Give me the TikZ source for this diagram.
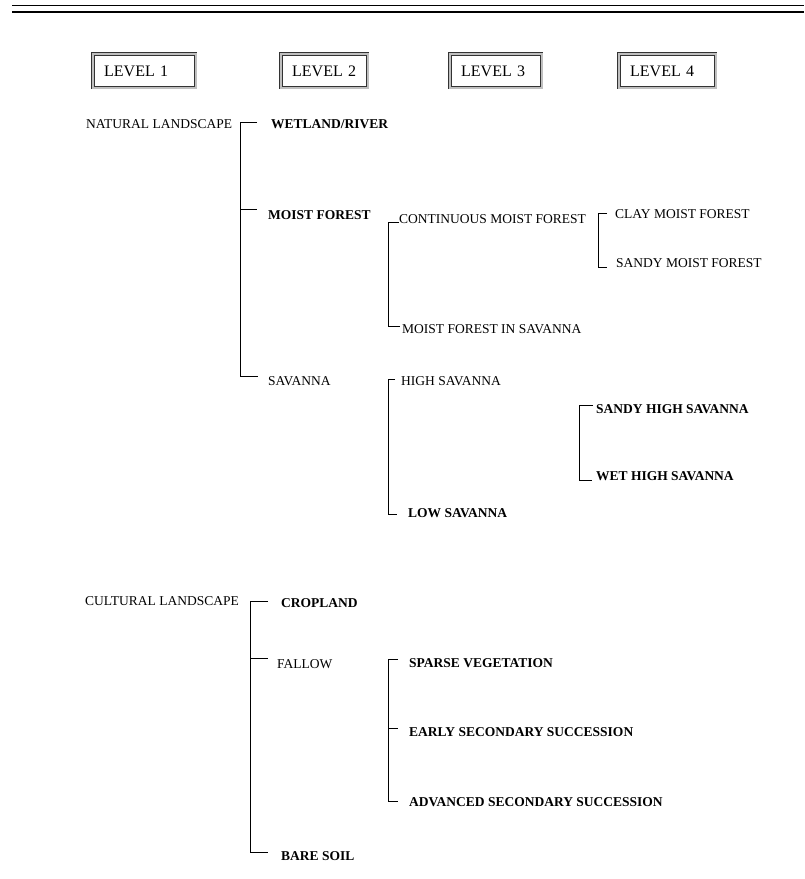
\documentclass[tikz,border=0pt]{standalone}
\usepackage{fontspec}
\setmainfont{Liberation Serif}
\newcommand\treefont{\fontsize{13.5}{15}\selectfont}
\newcommand\levelfont{\fontsize{16}{18}\selectfont}
\begin{document}
\begin{tikzpicture}[x=1pt,y=-1pt,
    lab/.style={anchor=base west,inner sep=0pt,font=\treefont},
    blab/.style={lab,font=\treefont\bfseries},
    levelbox/.style={draw=black!80,double=black!25,double distance=1.6pt,line width=0.9pt,
      anchor=north west,inner xsep=11pt,inner ysep=0pt,minimum height=33.6pt,align=left,font=\levelfont},
    rama/.style={line width=0.9pt}]
    \useasboundingbox (0,0) rectangle (804,879);
    % Doble linea superior
    \draw[line width=1.3pt] (12,5.7) -- (804,5.7);
    \draw[line width=1.3pt] (12,12) -- (804,12);
    % Cajas de niveles
    \node[levelbox,text width=80.6pt] (lev1) at (92.7,53.7) {LEVEL 1};
    \node[levelbox,text width=64.6pt] (lev2) at (280.7,53.7) {\mbox{LEVEL 2}};
    \node[levelbox,text width=69.6pt] (lev3) at (449.7,53.7) {LEVEL 3};
    \node[levelbox,text width=74.6pt] (lev4) at (618.7,53.7) {LEVEL 4};
    % Paisaje natural
    \node[lab] (nat) at (86,128) {NATURAL LANDSCAPE};
    \node[blab] (wet) at (271,128) {WETLAND/RIVER};
    \node[blab] (moist) at (268,219) {MOIST FOREST};
    \node[lab] (sav) at (268,385) {SAVANNA};
    \node[lab] (cont) at (399,223) {CONTINUOUS MOIST FOREST};
    \node[lab] (mfis) at (402,333) {MOIST FOREST IN SAVANNA};
    \node[lab] (clay) at (615,218) {CLAY MOIST FOREST};
    \node[lab] (sandy) at (616,267) {SANDY MOIST FOREST};
    \node[lab] (high) at (401,385) {HIGH SAVANNA};
    \node[blab] (low) at (408,517) {LOW SAVANNA};
    \node[blab] (shs) at (596,413) {SANDY HIGH SAVANNA};
    \node[blab] (whs) at (596,480) {WET HIGH SAVANNA};
    % Paisaje cultural
    \node[lab] (cul) at (85,605) {CULTURAL LANDSCAPE};
    \node[blab] (crop) at (281,607) {CROPLAND};
    \node[lab] (fal) at (277,668) {FALLOW};
    \node[blab] (bare) at (281,860) {BARE SOIL};
    \node[blab] (sparse) at (409,667) {SPARSE VEGETATION};
    \node[blab] (early) at (409,736) {EARLY SECONDARY SUCCESSION};
    \node[blab] (adv) at (409,806) {ADVANCED SECONDARY SUCCESSION};
    % Extremos de las ramas
    \coordinate (wet-t) at ([shift={(-14,-6)}]wet.base west);
    \coordinate (moist-t) at ([shift={(-11,-10)}]moist.base west);
    \coordinate (sav-t) at ([shift={(-10,-9)}]sav.base west);
    \coordinate (cont-t) at ([shift={(0,-1)}]cont.base west);
    \coordinate (mfis-t) at ([shift={(-2,-7)}]mfis.base west);
    \coordinate (clay-t) at ([shift={(-8,-5)}]clay.base west);
    \coordinate (sandy-t) at ([shift={(-9,0)}]sandy.base west);
    \coordinate (high-t) at ([shift={(-6,-6)}]high.base west);
    \coordinate (low-t) at ([shift={(-11,-3)}]low.base west);
    \coordinate (shs-t) at ([shift={(-3,-8)}]shs.base west);
    \coordinate (whs-t) at ([shift={(-4,0)}]whs.base west);
    \coordinate (crop-t) at ([shift={(-13,-6)}]crop.base west);
    \coordinate (fal-t) at ([shift={(-9,-10)}]fal.base west);
    \coordinate (bare-t) at ([shift={(-13,-8)}]bare.base west);
    \coordinate (sparse-t) at ([shift={(-11,-8)}]sparse.base west);
    \coordinate (early-t) at ([shift={(-11,-8)}]early.base west);
    \coordinate (adv-t) at ([shift={(-11,-5)}]adv.base west);
    % Ejes verticales
    \coordinate (e1) at (240,0);
    \coordinate (e2) at (388,0);
    \coordinate (e3) at (598,0);
    \coordinate (e4) at (579,0);
    \coordinate (e5) at (250,0);
    % Ramas
    \draw[rama] (wet-t) -- (wet-t -| e1) -- (sav-t -| e1) -- (sav-t);
    \draw[rama] (moist-t -| e1) -- (moist-t);
    \draw[rama] (cont-t) -- (cont-t -| e2) -- (mfis-t -| e2) -- (mfis-t);
    \draw[rama] (clay-t) -- (clay-t -| e3) -- (sandy-t -| e3) -- (sandy-t);
    \draw[rama] (high-t) -- (high-t -| e2) -- (low-t -| e2) -- (low-t);
    \draw[rama] (shs-t) -- (shs-t -| e4) -- (whs-t -| e4) -- (whs-t);
    \draw[rama] (crop-t) -- (crop-t -| e5) -- (bare-t -| e5) -- (bare-t);
    \draw[rama] (fal-t -| e5) -- (fal-t);
    \draw[rama] (sparse-t) -- (sparse-t -| e2) -- (adv-t -| e2) -- (adv-t);
    \draw[rama] (early-t -| e2) -- (early-t);
\end{tikzpicture}
\end{document}
